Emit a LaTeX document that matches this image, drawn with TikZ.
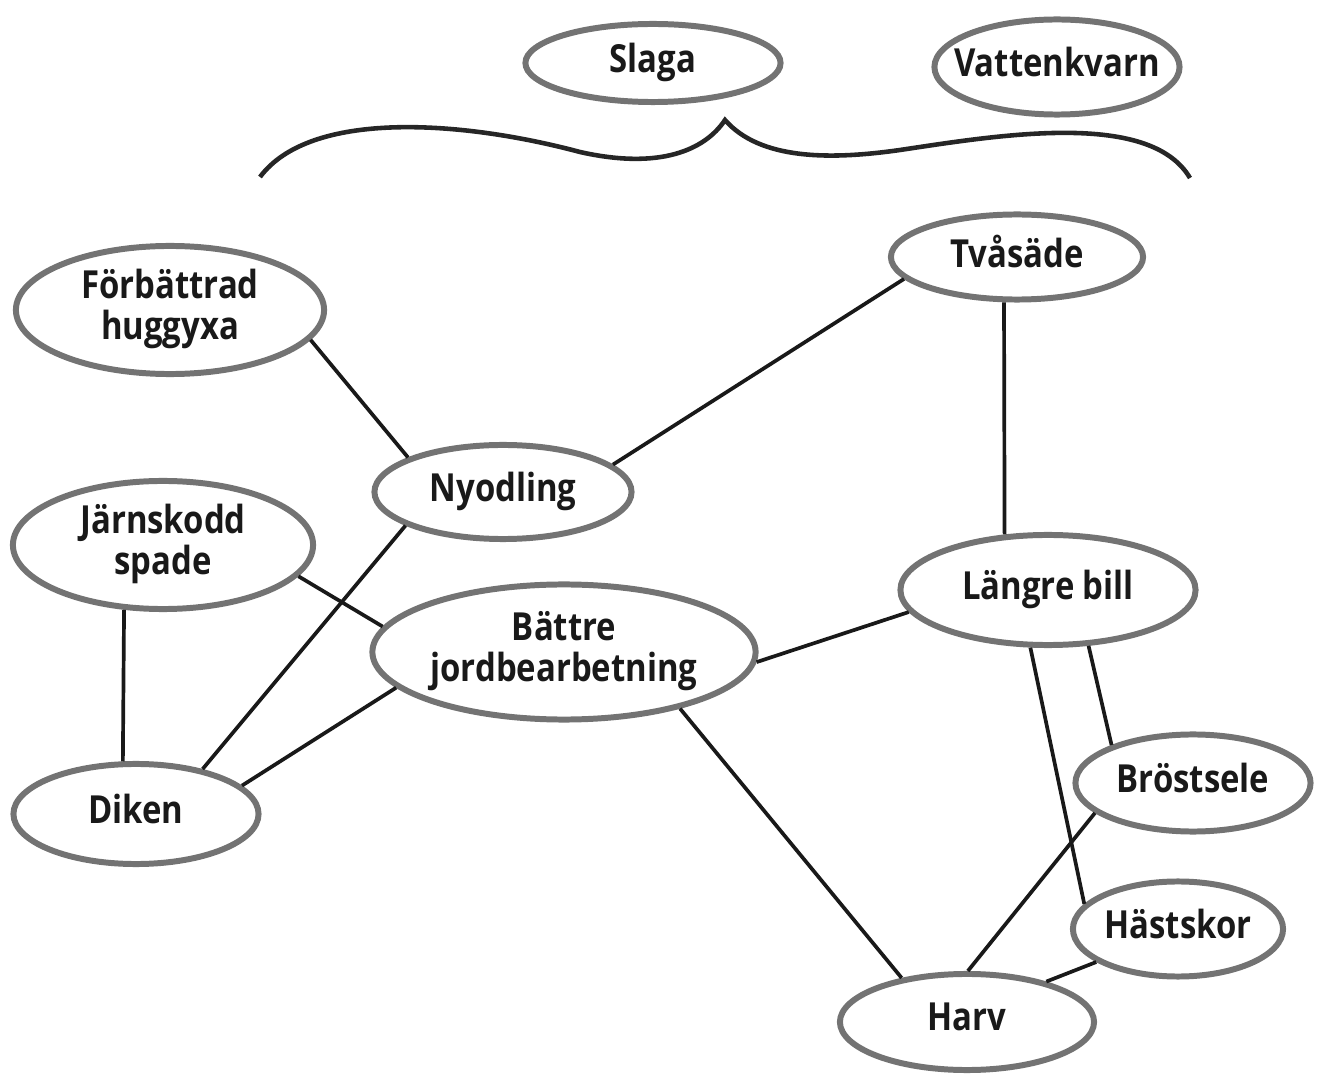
\documentclass[tikz,border=0pt]{standalone}
\usepackage{fontspec}
\setmainfont{Open Sans}[FakeStretch=0.85]
\usetikzlibrary{shapes.geometric}
\newcommand\ideatext[1]{\makebox[0pt]{\begin{tabular}{@{}c@{}}#1\end{tabular}}}

\begin{document}
\begin{tikzpicture}[x=0.01cm,y=-0.01cm,
    idea/.style={ellipse,draw=black!55,line width=1.7pt,inner sep=0pt,
      font=\fontsize{11}{10.6}\selectfont\bfseries,text=black!90},
    link/.style={line width=1.05pt,draw=black!90}]
  \useasboundingbox (0,0) rectangle (1317,1076);
  \node[idea,minimum width=2.55cm,minimum height=0.78cm] (slaga) at (653,63) {\ideatext{Slaga}};
  \node[idea,minimum width=2.45cm,minimum height=0.95cm] (kvarn) at (1057,67) {\ideatext{Vattenkvarn}};
  \node[idea,minimum width=2.52cm,minimum height=0.85cm] (tva) at (1017,257) {\ideatext{Tvåsäde}};
  \node[idea,minimum width=3.08cm,minimum height=1.28cm] (yxa) at (170,310) {\ideatext{Förbättrad\\huggyxa}};
  \node[idea,minimum width=2.57cm,minimum height=0.94cm] (ny) at (503,492) {\ideatext{Nyodling}};
  \node[idea,minimum width=3.00cm,minimum height=1.28cm] (spade) at (163,545) {\ideatext{Järnskodd\\spade}};
  \node[idea,minimum width=3.83cm,minimum height=1.35cm] (jord) at (564,652) {\ideatext{Bättre\\jordbearbetning}};
  \node[idea,minimum width=2.95cm,minimum height=1.10cm] (bill) at (1048,590) {\ideatext{Längre bill}};
  \node[idea,minimum width=2.45cm,minimum height=1.00cm] (diken) at (136,814) {\ideatext{Diken}};
  \node[idea,minimum width=2.35cm,minimum height=0.97cm] (sele) at (1193,783) {\ideatext{Bröstsele}};
  \node[idea,minimum width=2.10cm,minimum height=0.95cm] (skor) at (1178,929) {\ideatext{Hästskor}};
  \node[idea,minimum width=2.54cm,minimum height=0.96cm] (harv) at (967,1022) {\ideatext{Harv}};

  \draw[line width=1.3pt,black!85] (260,177) .. controls (310,110) and (460,120) .. (580,152)
    .. controls (660,170) and (705,150) .. (725,120)
    .. controls (760,160) and (830,160) .. (900,150)
    .. controls (1000,135) and (1150,110) .. (1190,178);

  \path (yxa.-12) edge[link] (ny.160);
  \path (ny.14) edge[link] (tva.191);
  \path (tva.-106) edge[link] (bill.128);
  \path (ny.199) edge[link] (diken.34);
  \path (spade.-13) edge[link] (jord.172);
  \path (spade.-121) edge[link] (diken.104);
  \path (diken.15) edge[link] (jord.192);
  \path (jord.-3) edge[link] (bill.189);
  \path (jord.-26) edge[link] (harv.146);
  \path (bill.-54) edge[link] (sele.155);
  \path (bill.-107) edge[link] (skor.165);
  \path (sele.197) edge[link] (harv.89);
  \path (skor.202) edge[link] (harv.27);
\end{tikzpicture}
\end{document}
